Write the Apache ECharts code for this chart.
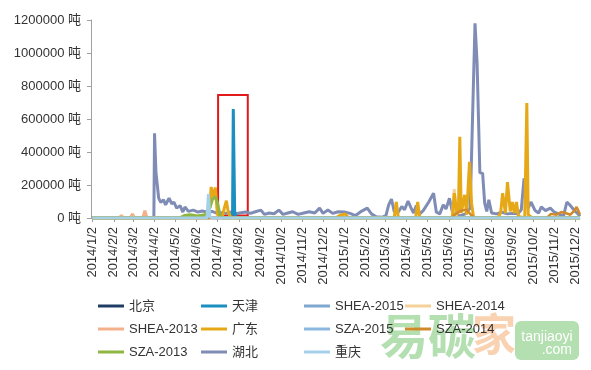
<!DOCTYPE html>
<html><head><meta charset="utf-8">
<script src="https://cdn.jsdelivr.net/npm/echarts@6/dist/echarts.min.js"></script>
<style>html,body{margin:0;padding:0;background:#fff}#c{width:591px;height:370px}</style>
</head><body><div id="c"></div>
<script>
// ---------- data ----------
const tickLabels = ['2014/1/2','2014/2/2','2014/3/2','2014/4/2','2014/5/2','2014/6/2','2014/7/2','2014/8/2','2014/9/2','2014/10/2','2014/11/2','2014/12/2',
  '2015/1/2','2015/2/2','2015/3/2','2015/4/2','2015/5/2','2015/6/2','2015/7/2','2015/8/2','2015/9/2','2015/10/2','2015/11/2','2015/12/2'];
const yTicks = [0, 200000, 400000, 600000, 800000, 1000000, 1200000];
const xRange = ['2013/12/31', '2015/12/9'];
const redBox = ['2014/7/3', '2014/8/15', 15000, 745000];

const beijing = [['2014/1/2',0],['2015/12/9',0]];
const tianjin = [['2014/1/2',0],['2014/7/22',0],['2014/7/24',30000],['2014/7/25',660000],['2014/7/27',40000],['2014/7/29',0],['2015/12/9',0]];
const shea2015 = [['2014/1/2',0],['2015/12/9',0]];
const shea2014 = [['2014/1/2',0],['2015/6/7',0],['2015/6/10',175000],['2015/6/13',0],['2015/12/9',0]];
const shea2013 = [['2014/1/2',0],['2014/2/10',0],['2014/2/13',15000],['2014/2/16',0],['2014/2/26',0],['2014/3/1',25000],['2014/3/4',0],['2014/3/16',0],['2014/3/19',45000],['2014/3/22',0],['2015/12/9',0]];
const guangdong = [['2014/1/2',0],['2014/6/19',0],['2014/6/21',70000],['2014/6/23',188000],['2014/6/26',127000],['2014/6/29',185000],['2014/7/2',20000],['2014/7/9',5000],['2014/7/12',60000],['2014/7/15',105000],['2014/7/18',30000],['2014/7/22',0],
  ['2014/12/20',0],['2014/12/26',15000],['2015/1/3',25000],['2015/1/8',0],['2015/3/15',0],['2015/3/18',97000],['2015/3/21',0],['2015/4/15',0],['2015/4/18',97000],['2015/4/21',0],
  ['2015/6/7',0],['2015/6/10',150000],['2015/6/14',20000],['2015/6/16',40000],['2015/6/18',492000],['2015/6/20',30000],['2015/6/25',140000],['2015/6/28',20000],['2015/7/2',340000],['2015/7/5',90000],['2015/7/8',0],
  ['2015/8/12',0],['2015/8/16',30000],['2015/8/19',150000],['2015/8/23',30000],['2015/8/26',218000],['2015/8/30',40000],['2015/9/2',97000],['2015/9/5',30000],['2015/9/8',97000],['2015/9/11',10000],['2015/9/20',0],['2015/9/23',697000],['2015/9/25',20000],['2015/10/1',0],['2015/12/9',0]];
const sza2015 = [['2014/1/2',0],['2015/12/9',0]];
const sza2014 = [['2014/1/2',0],['2015/6/6',0],['2015/6/12',25000],['2015/6/20',45000],['2015/6/28',50000],['2015/7/4',20000],['2015/7/10',0],['2015/10/22',0],['2015/10/28',25000],['2015/11/5',20000],['2015/11/12',36000],['2015/11/18',30000],['2015/11/25',20000],['2015/12/1',45000],['2015/12/4',67000],['2015/12/7',40000],['2015/12/9',20000]];
const sza2013 = [['2014/1/2',0],['2014/5/8',0],['2014/5/15',15000],['2014/5/24',20000],['2014/6/3',12000],['2014/6/14',20000],['2014/6/21',60000],['2014/6/25',115000],['2014/6/29',127000],['2014/7/2',95000],['2014/7/6',10000],['2014/7/10',0],['2015/12/9',0]];
const hubei = [['2014/1/2',0],['2014/4/1',0],['2014/4/2',514000],['2014/4/4',280000],['2014/4/8',120000],['2014/4/11',95000],['2014/4/15',110000],['2014/4/18',80000],['2014/4/23',120000],['2014/4/27',85000],['2014/4/30',97000],
  ['2014/5/4',60000],['2014/5/9',75000],['2014/5/13',36000],['2014/5/16',67000],['2014/5/21',40000],['2014/5/28',48000],['2014/6/4',36000],['2014/6/10',42000],['2014/6/17',36000],['2014/6/24',40000],
  ['2014/7/1',30000],['2014/7/8',32000],['2014/7/15',28000],['2014/7/22',36000],['2014/7/29',26000],['2014/8/5',32000],['2014/8/12',36000],['2014/8/19',28000],['2014/8/26',38000],
  ['2014/9/3',48000],['2014/9/8',22000],['2014/9/15',30000],['2014/9/22',26000],['2014/9/29',48000],['2014/10/5',22000],['2014/10/12',30000],['2014/10/19',38000],['2014/10/27',22000],
  ['2014/11/4',30000],['2014/11/12',38000],['2014/11/20',30000],['2014/11/27',60000],['2014/12/2',28000],['2014/12/9',48000],['2014/12/16',28000],['2014/12/24',38000],
  ['2015/1/2',36000],['2015/1/10',28000],['2015/1/18',15000],['2015/1/27',42000],['2015/2/4',60000],['2015/2/10',25000],['2015/2/17',8000],['2015/2/26',5000],
  ['2015/3/3',15000],['2015/3/7',80000],['2015/3/11',115000],['2015/3/15',40000],['2015/3/20',30000],['2015/3/26',70000],['2015/3/30',50000],['2015/4/4',103000],['2015/4/8',65000],['2015/4/12',30000],['2015/4/16',75000],['2015/4/21',25000],['2015/4/26',45000],
  ['2015/5/4',97000],['2015/5/11',150000],['2015/5/15',35000],['2015/5/20',25000],['2015/5/25',80000],['2015/5/29',55000],['2015/6/3',120000],['2015/6/7',40000],['2015/6/12',25000],['2015/6/18',12000],['2015/6/26',25000],
  ['2015/7/3',60000],['2015/7/10',1180000],['2015/7/13',940000],['2015/7/15',930000],['2015/7/17',275000],['2015/7/21',270000],['2015/7/24',90000],['2015/7/27',40000],['2015/7/30',110000],
  ['2015/8/3',30000],['2015/8/10',25000],['2015/8/18',35000],['2015/8/26',25000],['2015/9/2',28000],['2015/9/10',25000],['2015/9/15',50000],['2015/9/19',240000],['2015/9/22',200000],['2015/9/25',60000],['2015/9/29',97000],
  ['2015/10/5',45000],['2015/10/10',30000],['2015/10/14',67000],['2015/10/20',45000],['2015/10/27',60000],['2015/11/2',35000],['2015/11/8',25000],['2015/11/15',10000],['2015/11/20',97000],['2015/11/24',80000],['2015/12/1',45000],['2015/12/5',30000],['2015/12/9',10000]];
const chongqing = [['2014/1/2',0],['2014/6/17',0],['2014/6/19',145000],['2014/6/21',10000],['2014/6/24',0],['2015/12/9',0]];

// ---------- chart ----------
const FONT = '"Liberation Sans", Arial, "Noto Sans CJK SC", sans-serif';
const toTs = s => new Date(s).getTime();
const tickVals = tickLabels.map(toTs);
const labelOf = {};
tickLabels.forEach((s, i) => { labelOf[tickVals[i]] = s; });

const seriesDefs = [
  ['湖北', hubei, '#7F8DB6', 3],
  ['北京', beijing, '#1F3D63', 2.5],
  ['天津', tianjin, '#1B8FBF', 3],
  ['SHEA-2015', shea2015, '#7DA7CF', 2.5],
  ['SHEA-2014', shea2014, '#F5D19A', 3],
  ['SHEA-2013', shea2013, '#F4B08A', 3],
  ['广东', guangdong, '#E6A817', 3],
  ['SZA-2015', sza2015, '#8CB8E0', 2.5],
  ['SZA-2014', sza2014, '#D08A2A', 2.5],
  ['SZA-2013', sza2013, '#8FB640', 3],
  ['重庆', chongqing, '#A4D0EA', 3]
];

const series = seriesDefs.map(([name, data, color, w]) => {
  const s = {
    name, type: 'line', data: data.map(d => [toTs(d[0]), d[1]]),
    symbol: 'none', showSymbol: false, color,
    lineStyle: { width: w, color }, animation: false
  };
  if (name === '天津') {
    s.markArea = {
      silent: true,
      itemStyle: { color: 'rgba(0,0,0,0)', borderColor: '#E31A1C', borderWidth: 2 },
      data: [[{ xAxis: toTs(redBox[0]), yAxis: redBox[2] }, { xAxis: toTs(redBox[1]), yAxis: redBox[3] }]]
    };
  }
  return s;
});

const legendCols = [[98, ['北京','SHEA-2013','SZA-2013']], [201, ['天津','广东','湖北']], [304, ['SHEA-2015','SZA-2015','重庆']], [405, ['SHEA-2014','SZA-2014']]];
const rowTops = [298, 321, 344];
const legends = [];
legendCols.forEach(([left, names]) => names.forEach((n, r) => {
  legends.push({
    left, top: rowTops[r], padding: 0, data: [n], icon: 'rect', itemWidth: 26, itemHeight: 3,
    selectedMode: false,
    textStyle: { fontSize: 13, color: '#333', fontFamily: FONT, lineHeight: 16 }
  });
}));

const chart = echarts.init(document.getElementById('c'), null, { renderer: 'canvas' });
chart.setOption({
  animation: false,
  backgroundColor: '#fff',
  grid: { left: 91, right: 11, top: 20, bottom: 152, containLabel: false },
  legend: legends,
  xAxis: {
    type: 'value', min: toTs(xRange[0]), max: toTs(xRange[1]), scale: true,
    axisLine: { show: true, lineStyle: { color: '#A0A0A0', width: 1 } },
    axisTick: { show: true, customValues: tickVals, length: 4, lineStyle: { color: '#A0A0A0' } },
    axisLabel: { customValues: tickVals, rotate: 90, margin: 9, fontSize: 13, color: '#333', fontFamily: FONT,
      formatter: v => labelOf[v] || '' },
    splitLine: { show: false }
  },
  yAxis: {
    type: 'value', min: yTicks[0], max: yTicks[yTicks.length - 1], interval: yTicks[1] - yTicks[0],
    axisLine: { show: true, lineStyle: { color: '#A0A0A0', width: 1 } },
    axisTick: { show: true, length: 4, lineStyle: { color: '#A0A0A0' } },
    axisLabel: { margin: 10, fontSize: 13, color: '#333', fontFamily: FONT, formatter: v => v + ' 吨' },
    splitLine: { show: false }
  },
  graphic: [
    { type: 'text', x: 380, y: 312, z: -10, style: { text: '易', fontSize: 48, fontWeight: 'bold', fill: '#B4DFB0', fontFamily: '"Noto Sans CJK SC"' } },
    { type: 'text', x: 428, y: 312, z: -10, style: { text: '碳', fontSize: 48, fontWeight: 'bold', fill: '#B4DFB0', fontFamily: '"Noto Sans CJK SC"' } },
    { type: 'text', x: 472, y: 312, z: -10, style: { text: '家', fontSize: 44, fontWeight: 'bold', fill: '#F9D2B2', fontFamily: '"Noto Sans CJK SC"' } },
    { type: 'rect', z: -10, shape: { x: 515, y: 321, width: 64, height: 39, r: 6 }, style: { fill: '#B4DFB0' } },
    { type: 'text', x: 547, y: 337, z: -9, style: { text: 'tanjiaoyi', fontSize: 14, fill: '#fff', align: 'center', verticalAlign: 'middle', fontFamily: FONT } },
    { type: 'text', x: 572, y: 350, z: -9, style: { text: '.com', fontSize: 14, fill: '#fff', align: 'right', verticalAlign: 'middle', fontFamily: FONT } }
  ],
  series
});
</script>
</body></html>
